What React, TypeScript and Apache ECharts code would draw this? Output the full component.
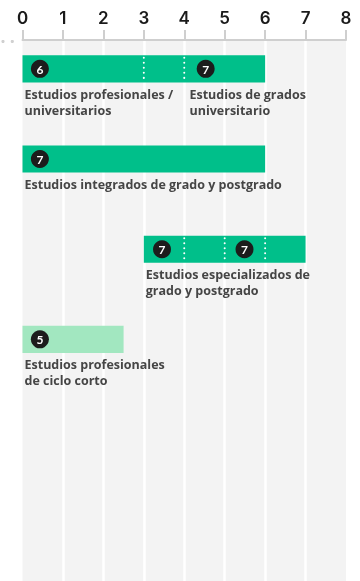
import React, { useEffect, useRef } from 'react';
import * as echarts from 'echarts';

const tickLabels = ['0', '1', '2', '3', '4', '5', '6', '7', '8'];
const rowIds = ['r1', 'r2', 'r3', 'r4', 'r5', 'r6'];
const rowStart = [0, 0, 3, 0];
const rowEnd = [6, 6, 7, 2.5];
const rowColor = ['#00BF8A', '#00BF8A', '#00BF8A', '#A2E7C0'];
const badgeX = [[0.43, 4.53], [0.43], [3.45, 5.49], [0.43]];
const badgeLevel = [['6', '7'], ['7'], ['7', '7'], ['5']];
const dividerX = [[3, 4], [], [4, 5, 6], []];
const labelX = [[0, 4.08], [0], [3], [0]];
const labelText = [
  ['Estudios profesionales /\nuniversitarios', 'Estudios de grados\nuniversitario'],
  ['Estudios integrados de grado y postgrado'],
  ['Estudios especializados de\ngrado y postgrado'],
  ['Estudios profesionales\nde ciclo corto'],
];

export default function App() {
  const ref = useRef<HTMLDivElement>(null);
  useEffect(() => {
    if (!ref.current) return;
    const chart = echarts.init(ref.current, null, { renderer: 'svg' });
    const data = rowStart.map((s, i) => [s, rowEnd[i], i]);
    chart.setOption({
      animation: false,
      grid: { left: 22.5, right: 14, top: 40, bottom: 0 },
      xAxis: {
        type: 'value',
        position: 'top',
        min: 0,
        max: 8,
        interval: 1,
        axisLine: { show: true, lineStyle: { color: '#cfcfcf', width: 2 } },
        axisTick: { show: true, length: 10, lineStyle: { color: '#cfcfcf', width: 2 } },
        axisLabel: {
          margin: 14,
          color: '#1a1a1a',
          fontSize: 17,
          fontFamily: 'Inter',
          fontWeight: 600,
          formatter: (v: number) => tickLabels[Math.round(v)] ?? '',
        },
        splitArea: { show: true, areaStyle: { color: ['#f3f3f3', '#f3f3f3'] } },
        splitLine: { show: true, showMinLine: false, showMaxLine: false, lineStyle: { color: '#ffffff', width: 2.5 } },
      },
      yAxis: {
        type: 'category',
        data: rowIds,
        inverse: true,
        show: false,
      },
      graphic: [
        { type: 'circle', shape: { cx: 3, cy: 41.5, r: 1.6 }, style: { fill: '#d0d0d0' } },
        { type: 'circle', shape: { cx: 12.3, cy: 41.5, r: 1.6 }, style: { fill: '#d0d0d0' } },
      ],
      series: [
        {
          type: 'custom',
          clip: false,
          encode: { x: [0, 1], y: 2 },
          data,
          renderItem: (params: any, api: any) => {
            const i = params.dataIndex;
            const p0 = api.coord([api.value(0), i]);
            const p1 = api.coord([api.value(1), i]);
            const band = api.size([0, 1])[1];
            const h = band * 0.3;
            const cy = p0[1] - band * 0.18;
            const top = cy - h / 2;
            const children: any[] = [
              {
                type: 'rect',
                shape: { x: p0[0], y: top, width: p1[0] - p0[0], height: h },
                style: { fill: rowColor[i] },
              },
            ];
            dividerX[i].forEach((dx) => {
              const x = api.coord([dx, i])[0];
              children.push({
                type: 'line',
                shape: { x1: x, y1: top + 2.5, x2: x, y2: top + h },
                style: { stroke: '#ffffff', lineWidth: 2, lineDash: [0.01, 5], lineCap: 'round' },
              });
            });
            badgeX[i].forEach((bx, k) => {
              const x = api.coord([bx, i])[0];
              children.push({
                type: 'circle',
                shape: { cx: x, cy, r: 9 },
                style: { fill: '#1c1c1c' },
              });
              children.push({
                type: 'text',
                style: {
                  text: badgeLevel[i][k],
                  x,
                  y: cy + 0.5,
                  fill: '#ffffff',
                  fontSize: 12,
                  fontWeight: 'bold',
                  fontFamily: 'Lato',
                  align: 'center',
                  verticalAlign: 'middle',
                },
              });
            });
            labelX[i].forEach((lx, k) => {
              const x = api.coord([lx, i])[0];
              children.push({
                type: 'text',
                style: {
                  text: labelText[i][k],
                  x: x + 2,
                  y: top + h + 4,
                  fill: '#454545',
                  fontSize: 12.5,
                  fontWeight: 'bold',
                  fontFamily: 'Open Sans',
                  lineHeight: 16,
                  align: 'left',
                  verticalAlign: 'top',
                },
              });
            });
            return { type: 'group', children };
          },
        },
      ],
    });
    return () => chart.dispose();
  }, []);
  return (
    <div
      ref={ref}
      style={{ position: 'fixed', left: 0, top: 0, width: 360, height: 581 }}
    />
  );
}
